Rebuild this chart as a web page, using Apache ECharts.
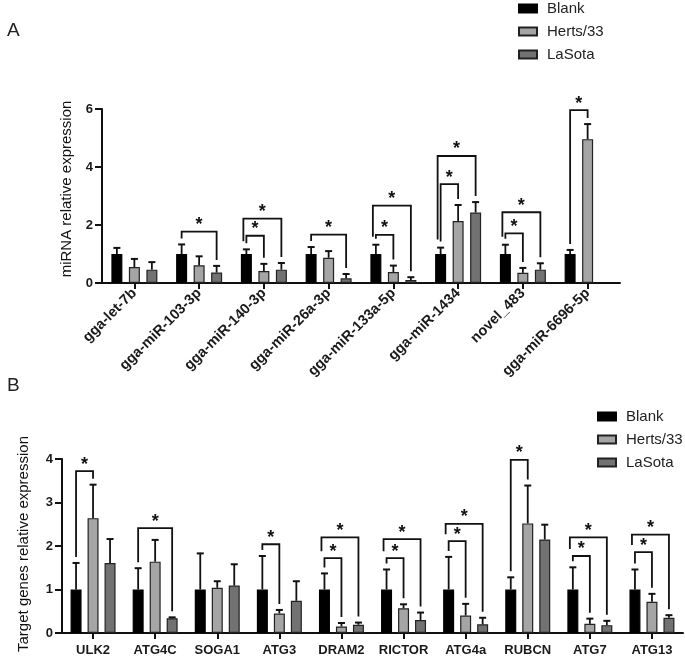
<!DOCTYPE html>
<html><head><meta charset="utf-8">
<script src="https://cdn.jsdelivr.net/npm/echarts@6/dist/echarts.min.js"></script>
<style>html,body{margin:0;padding:0;background:#fff}#c{width:685px;height:665px}</style>
</head><body><div id="c"></div>
<script>
// ---------- DATA ----------
const groupNames = ['Blank', 'Herts/33', 'LaSota'];

// Panel A: miRNA
const mirnaCategories = ['gga-let-7b', 'gga-miR-103-3p', 'gga-miR-140-3p', 'gga-miR-26a-3p', 'gga-miR-133a-5p', 'gga-miR-1434', 'novel_483', 'gga-miR-6696-5p'];
const mirnaBlank = [1.0, 1.0, 1.0, 1.0, 1.0, 1.0, 1.0, 1.0];
const mirnaBlankErr = [1.21, 1.33, 1.16, 1.24, 1.32, 1.22, 1.32, 1.14];
const mirnaHerts = [0.55, 0.61, 0.41, 0.87, 0.38, 2.14, 0.35, 4.96];
const mirnaHertsErr = [0.83, 0.92, 0.66, 1.10, 0.60, 2.69, 0.52, 5.48];
const mirnaLaSota = [0.46, 0.36, 0.46, 0.16, 0.10, 2.43, 0.46, null];
const mirnaLaSotaErr = [0.72, 0.59, 0.69, 0.31, 0.20, 2.79, 0.68, null];
// [category index, from group, to group, bracket height]
const mirnaSig = [[1,0,2,1.77],[2,0,1,1.63],[2,0,2,2.22],[3,0,2,1.67],[4,0,1,1.66],[4,0,2,2.67],[5,0,1,3.41],[5,0,2,4.38],[6,0,1,1.71],[6,0,2,2.44],[7,0,1,5.96]];
const mirnaTicks = [0, 2, 4, 6];

// Panel B: target genes
const geneCategories = ['ULK2', 'ATG4C', 'SOGA1', 'ATG3', 'DRAM2', 'RICTOR', 'ATG4a', 'RUBCN', 'ATG7', 'ATG13'];
const geneBlank = [1.0, 1.0, 1.0, 1.0, 1.0, 1.0, 1.0, 1.0, 1.0, 1.0];
const geneBlankErr = [1.61, 1.49, 1.83, 1.77, 1.37, 1.46, 1.75, 1.28, 1.51, 1.46];
const geneHerts = [2.64, 1.64, 1.04, 0.45, 0.15, 0.57, 0.40, 2.52, 0.21, 0.72];
const geneHertsErr = [3.41, 2.14, 1.19, 0.53, 0.23, 0.66, 0.67, 3.39, 0.33, 0.90];
const geneLaSota = [1.61, 0.34, 1.09, 0.74, 0.19, 0.30, 0.20, 2.15, 0.18, 0.35];
const geneLaSotaErr = [2.16, 0.36, 1.58, 1.19, 0.24, 0.47, 0.35, 2.49, 0.28, 0.41];
const geneSig = [[0,0,1,3.72],[1,0,2,2.41],[3,0,1,2.04],[4,0,1,1.72],[4,0,2,2.20],[5,0,1,1.72],[5,0,2,2.16],[6,0,1,2.11],[6,0,2,2.51],[7,0,1,3.98],[8,0,1,1.77],[8,0,2,2.20],[9,0,1,1.86],[9,0,2,2.26]];
const geneTicks = [0, 1, 2, 3, 4];

// ---------- STYLE ----------
const FONT = '"Liberation Sans", Arial, sans-serif';
const INK = '#111';
const fills = ['#000000', '#a5a5a5', '#727272'];
const borders = ['#000000', '#222222', '#222222'];
const BAR_W = 11;

const chart = echarts.init(document.getElementById('c'), null, {renderer: 'canvas'});

function barSeries(gi, data, axis, gap) {
  return {
    type: 'bar', name: groupNames[gi], xAxisIndex: axis, yAxisIndex: axis,
    data: data, barWidth: BAR_W, barGap: gap, z: 2,
    itemStyle: {color: fills[gi], borderColor: borders[gi], borderWidth: 1.2},
    emphasis: {disabled: true}, silent: true
  };
}

function errSeries(gi, vals, errs, axis, step) {
  const d = [];
  vals.forEach((v, i) => { if (v != null) d.push([i, v, errs[i]]); });
  return {
    type: 'custom', xAxisIndex: axis, yAxisIndex: axis, clip: false, z: 3, silent: true,
    encode: {x: 0, y: 2}, data: d,
    renderItem: function (params, api) {
      const c = api.value(0), v = api.value(1), e = api.value(2);
      const p0 = api.coord([c, v]), p1 = api.coord([c, e]);
      const x = p0[0] + (gi - 1) * step;
      return {type: 'group', children: [
        {type: 'line', shape: {x1: x, y1: p0[1], x2: x, y2: p1[1]}, style: {stroke: INK, lineWidth: 1.8}},
        {type: 'line', shape: {x1: x - 3.5, y1: p1[1], x2: x + 3.5, y2: p1[1]}, style: {stroke: INK, lineWidth: 2}}
      ]};
    }
  };
}

function sigSeries(sig, errArrays, axis, step, shortOuter) {
  return {
    type: 'custom', xAxisIndex: axis, yAxisIndex: axis, clip: false, z: 4, silent: true,
    encode: {x: 0, y: 3}, data: sig,
    renderItem: function (params, api) {
      const c = api.value(0), a = api.value(1), b = api.value(2), top = api.value(3);
      const cx = api.coord([c, 0])[0];
      const yTop = api.coord([c, top])[1];
      let xL = cx + (a - 1) * step;
      const xR = cx + (b - 1) * step;
      const inner = sig.find(s => s[0] === c && s[1] === a && s[2] < b);
      let yL;
      if (inner) {
        xL -= 3;
        yL = shortOuter ? api.coord([c, inner[3]])[1] - 7 : api.coord([c, errArrays[a][c]])[1] - 8;
      } else {
        yL = api.coord([c, errArrays[a][c]])[1] - 6;
      }
      const yR = api.coord([c, errArrays[b][c]])[1] - 6;
      return {type: 'group', children: [
        {type: 'polyline', shape: {points: [[xL, yL], [xL, yTop], [xR, yTop], [xR, yR]]},
         style: {stroke: INK, lineWidth: 1.8, fill: null}},
        {type: 'text', x: (xL + xR) / 2, y: yTop - 6.5,
         style: {text: '*', fill: INK, font: 'bold 18px ' + FONT, align: 'center', verticalAlign: 'middle'}}
      ]};
    }
  };
}

function catAxis(grid, cats, labelOpts) {
  return {
    type: 'category', gridIndex: grid, data: cats,
    axisLine: {show: true, lineStyle: {color: INK, width: 2}},
    axisTick: {show: true, alignWithLabel: true, length: 6, lineStyle: {color: INK, width: 2}},
    axisLabel: Object.assign({interval: 0, color: '#1a1a1a', fontFamily: FONT, fontWeight: 'bold'}, labelOpts),
    splitLine: {show: false}
  };
}

function valAxis(grid, ticks, name, gap, namePad) {
  return {
    type: 'value', gridIndex: grid, min: ticks[0], max: ticks[ticks.length - 1],
    interval: ticks[1] - ticks[0],
    axisLine: {show: true, lineStyle: {color: INK, width: 2}},
    axisTick: {show: true, length: 7, lineStyle: {color: INK, width: 2}},
    axisLabel: {color: '#1a1a1a', fontFamily: FONT, fontWeight: 'bold', fontSize: 13, margin: 9},
    splitLine: {show: false},
    name: name, nameLocation: 'middle', nameGap: gap, nameRotate: 90,
    nameTextStyle: {color: INK, fontFamily: FONT, fontSize: 15, padding: namePad}
  };
}

const stepA = 17.5, stepB = 17;
const gapA = ((stepA - BAR_W) / BAR_W * 100).toFixed(1) + '%';
const gapB = ((stepB - BAR_W) / BAR_W * 100).toFixed(1) + '%';

const legendBase = {
  orient: 'vertical', icon: 'rect', itemWidth: 18, itemHeight: 8, itemGap: 8, padding: 0,
  data: groupNames, selectedMode: false,
  textStyle: {color: '#222', fontFamily: FONT, fontSize: 15, padding: [0, 0, 0, 5]}
};

chart.setOption({
  animation: false,
  backgroundColor: '#fff',
  grid: [
    {left: 102, right: 65, top: 109, bottom: 382, containLabel: false, outerBoundsMode: 'none'},
    {left: 62, right: 2, top: 459, bottom: 32, containLabel: false, outerBoundsMode: 'none'}
  ],
  xAxis: [
    catAxis(0, mirnaCategories, {rotate: 45, fontSize: 14.5, margin: 8}),
    catAxis(1, geneCategories, {fontSize: 13, margin: 11})
  ],
  yAxis: [
    valAxis(0, mirnaTicks, 'miRNA relative expression', 28, [0, 0, 0, 14]),
    valAxis(1, geneTicks, 'Target genes relative expression', 31, [0, 0, 0, 4])
  ],
  legend: [
    Object.assign({left: 518, top: 1}, legendBase),
    Object.assign({left: 597, top: 409}, legendBase)
  ],
  graphic: [
    {type: 'text', left: 7, top: 21, style: {text: 'A', fill: '#222', font: '19px ' + FONT}},
    {type: 'text', left: 7, top: 376, style: {text: 'B', fill: '#222', font: '19px ' + FONT}}
  ],
  series: [
    barSeries(0, mirnaBlank, 0, gapA),
    barSeries(1, mirnaHerts, 0, gapA),
    barSeries(2, mirnaLaSota, 0, gapA),
    errSeries(0, mirnaBlank, mirnaBlankErr, 0, stepA),
    errSeries(1, mirnaHerts, mirnaHertsErr, 0, stepA),
    errSeries(2, mirnaLaSota, mirnaLaSotaErr, 0, stepA),
    sigSeries(mirnaSig, [mirnaBlankErr, mirnaHertsErr, mirnaLaSotaErr], 0, stepA, false),
    barSeries(0, geneBlank, 1, gapB),
    barSeries(1, geneHerts, 1, gapB),
    barSeries(2, geneLaSota, 1, gapB),
    errSeries(0, geneBlank, geneBlankErr, 1, stepB),
    errSeries(1, geneHerts, geneHertsErr, 1, stepB),
    errSeries(2, geneLaSota, geneLaSotaErr, 1, stepB),
    sigSeries(geneSig, [geneBlankErr, geneHertsErr, geneLaSotaErr], 1, stepB, true)
  ]
});
</script>
</body></html>
